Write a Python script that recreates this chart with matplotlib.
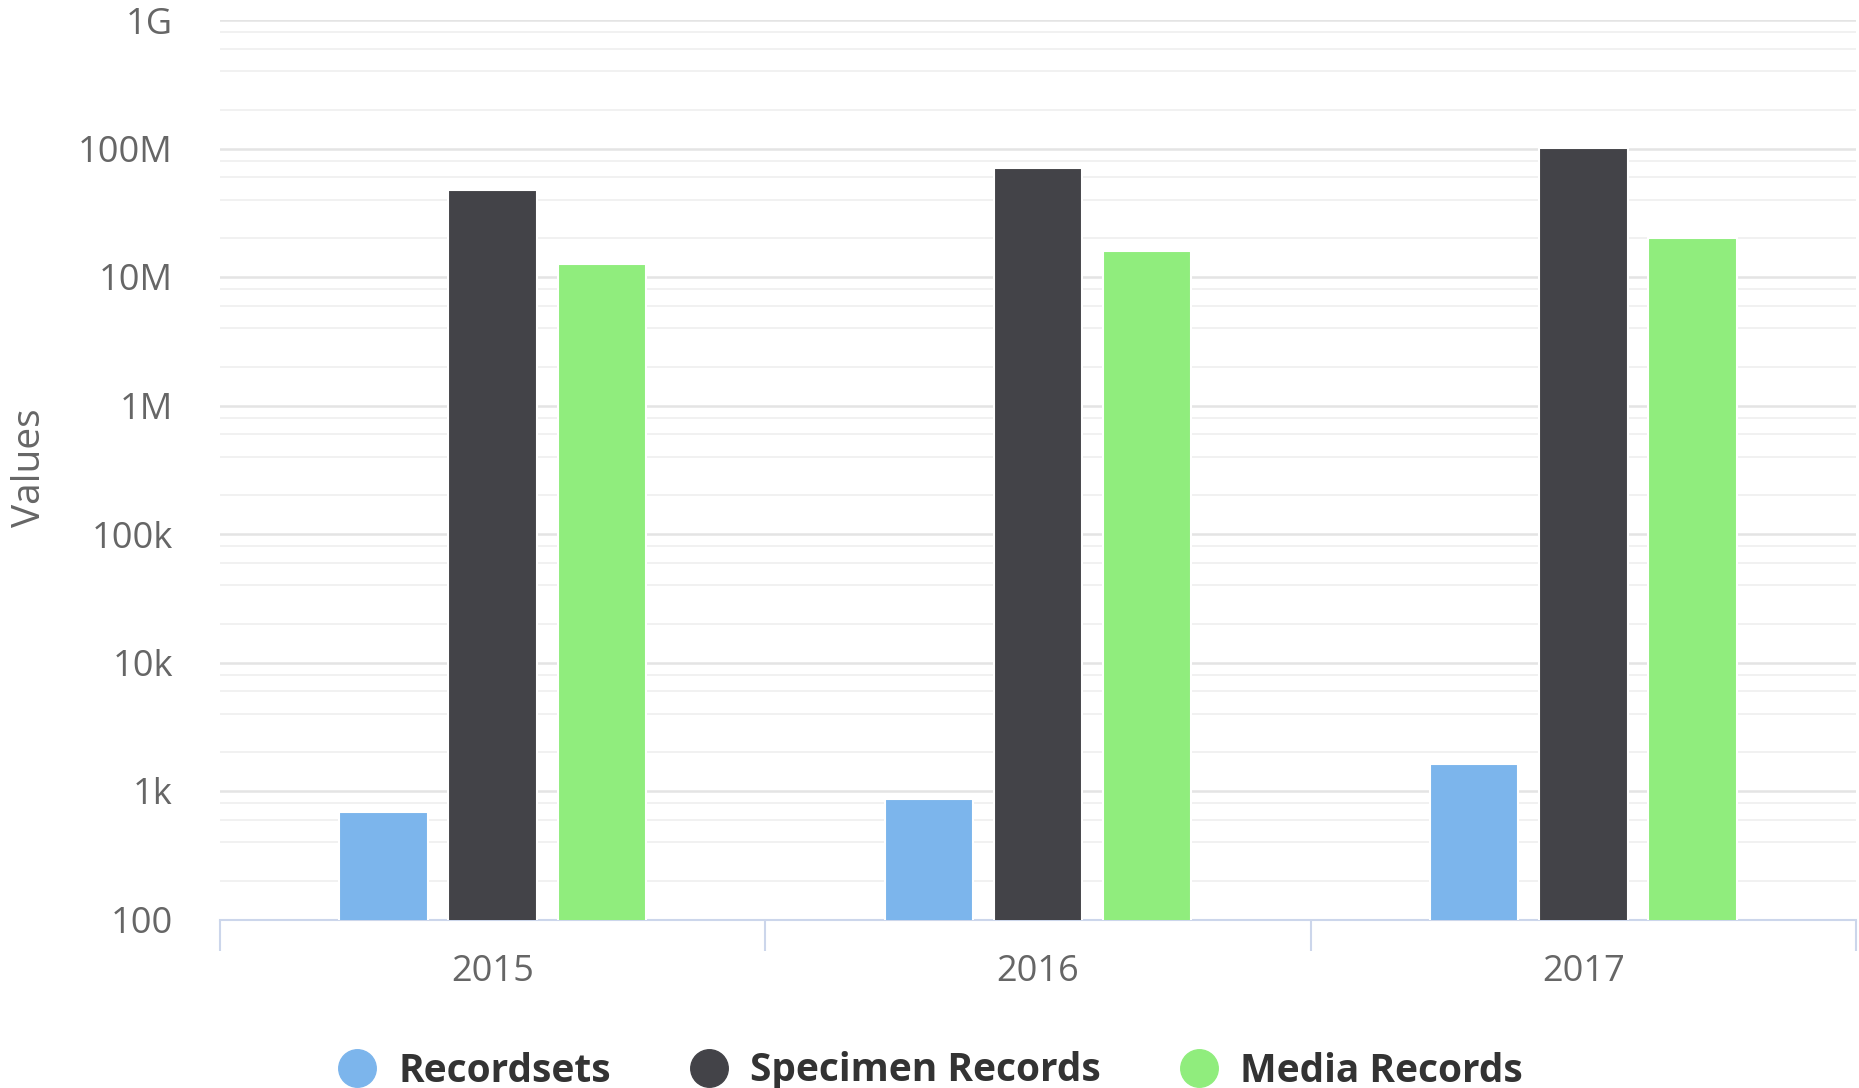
import matplotlib
matplotlib.use("Agg")
import matplotlib.pyplot as plt
import numpy as np
from matplotlib.lines import Line2D
from matplotlib.ticker import FixedLocator, FuncFormatter, LogLocator, NullFormatter

plt.rcParams["font.family"] = ["Open Sans", "DejaVu Sans"]

# --- data ---
years = ["2015", "2016", "2017"]
series_names = ["Recordsets", "Specimen Records", "Media Records"]
recordsets = [685, 865, 1630]
specimen_records = [47.4e6, 70.8e6, 100.7e6]
media_records = [12.6e6, 15.9e6, 20.1e6]

colors = ["#7cb5ec", "#434348", "#90ed7d"]
series_values = [recordsets, specimen_records, media_records]

# --- figure ---
W, H = 1859, 1088
fig = plt.figure(figsize=(W / 100, H / 100), dpi=100)
ax = fig.add_axes([220 / W, 1 - 919.5 / H, 1636 / W, 899.5 / H])

ax.set_yscale("log")
ax.set_ylim(100, 1e9)
ax.set_xlim(-0.5, len(years) - 0.5)

x = np.arange(len(years))
offsets = [-0.2, 0.0, 0.2]
for vals, off, col, name in zip(series_values, offsets, colors, series_names):
    ax.bar(x + off, vals, width=0.162, color=col, edgecolor="white",
           linewidth=1.5, label=name, zorder=3)

# y axis: decade labels with k/M/G suffixes
suffix = {2: "100", 3: "1k", 4: "10k", 5: "100k", 6: "1M", 7: "10M", 8: "100M", 9: "1G"}
ax.yaxis.set_major_locator(FixedLocator([10.0 ** p for p in range(2, 10)]))
ax.yaxis.set_major_formatter(FuncFormatter(lambda v, _: suffix.get(int(round(np.log10(v))), "")))
ax.yaxis.set_minor_locator(LogLocator(base=10, subs=[2, 4, 6, 8]))
ax.yaxis.set_minor_formatter(NullFormatter())
ax.tick_params(axis="y", which="both", length=0, pad=34, labelsize=26, labelcolor="#666666")

ax.grid(axis="y", which="major", color="#e4e4e4", linewidth=1.8, zorder=0)
ax.grid(axis="y", which="minor", color="#f0f0f0", linewidth=1.3, zorder=0)
ax.set_axisbelow(True)

# x axis: labels at category centres, ticks at category boundaries
ax.set_xticks(x)
ax.set_xticklabels(years)
ax.set_xticks(np.arange(-0.5, len(years)), minor=True)
ax.tick_params(axis="x", which="major", length=0, pad=25, labelsize=26, labelcolor="#666666")
ax.tick_params(axis="x", which="minor", length=22, width=1.5, color="#ccd6eb")

for side in ["left", "top", "right"]:
    ax.spines[side].set_visible(False)
ax.spines["bottom"].set_color("#ccd6eb")
ax.spines["bottom"].set_linewidth(1.5)

fig.text(30 / W, 1 - 468 / H, "Values", rotation=90, ha="center", va="center",
         fontsize=28, color="#666666")

handles = [Line2D([], [], linestyle="none", marker="o", markersize=27,
                  markerfacecolor=c, markeredgecolor=c) for c in colors]
fig.legend(handles, series_names, loc="center", bbox_to_anchor=(0.5005, 17 / H),
           ncol=3, frameon=False, handlelength=1.0, handletextpad=0.55,
           columnspacing=2.03, borderpad=0,
           prop={"size": 28, "weight": "bold"}, labelcolor="#333333")

fig.savefig("out.png", dpi=100)
